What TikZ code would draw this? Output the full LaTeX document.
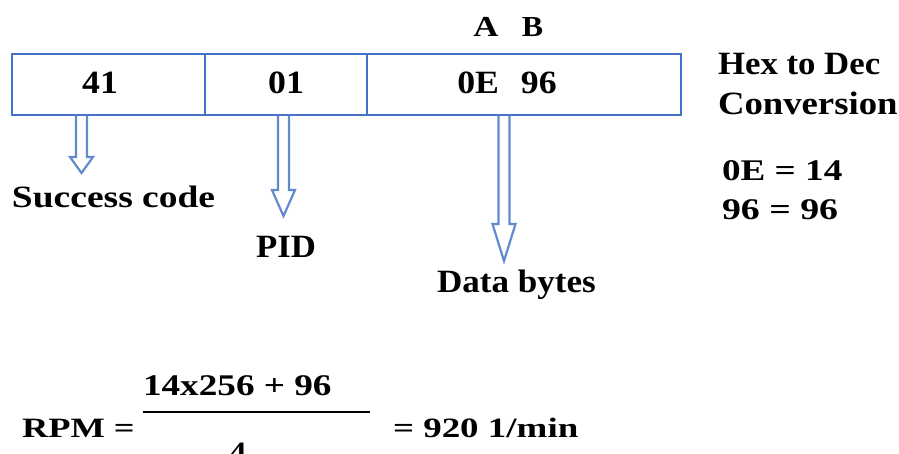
\documentclass[tikz,border=0pt]{standalone}
\usepackage{fontspec}
\setmainfont{Liberation Serif}
\usetikzlibrary{calc}
\definecolor{boxblue}{RGB}{68,114,196}
\definecolor{arrblue}{RGB}{100,138,206}
\tikzset{
  txt/.style n args={2}{font=\fontsize{#1}{#1}\selectfont\bfseries\addfontfeatures{FakeStretch=#2}, inner sep=0pt, outer sep=0pt},
  cell/.style={draw=boxblue, line width=2pt, minimum height=61.5pt, inner sep=0pt, outer sep=0pt, anchor=north west},
  blk/.style={draw=arrblue, line width=2.2pt, line join=miter},
  fracline/.style={draw=black, line width=1.8pt},
}
\newcommand\blkarrow[3]{\draw[blk] let \p1=(#1), \p2=(#2) in
  (\x1-5.5pt,\y1) -- (\x1-5.5pt,\y2+#3) -- (\x1-11.5pt,\y2+#3) -- (\x2,\y2) --
  (\x1+11.5pt,\y2+#3) -- (\x1+5.5pt,\y2+#3) -- (\x1+5.5pt,\y1);}
\begin{document}
\begin{tikzpicture}[x=1pt,y=-1pt]
\fill[white] (0,0) rectangle (899,454);
\useasboundingbox (0,0) rectangle (899,454);
% cells
\node[cell, minimum width=193pt] (c1) at (12,54) {};
\node[cell, minimum width=162pt] (c2) at (c1.north east) {};
\node[cell, minimum width=314pt] (c3) at (c2.north east) {};
% cell texts
\node[txt={32.5}{1.1}, anchor=base] (t41) at (100,94) {41};
\node[txt={32.5}{1.1}, anchor=base] (t01) at (286,94) {01};
\node[txt={32.5}{1.1}, anchor=base] (tdata) at (507,94) {0E\hspace{22pt}96};
\node[txt={29}{1.2}, anchor=base] (tA) at (486,37) {A};
\node[txt={29}{1.1}, anchor=base] (tB) at (532.5,37) {B};
% labels
\node[txt={31}{1.21}, anchor=base west] (lsucc) at (12,208) {Success code};
\node[txt={32.5}{1.07}, anchor=base west] (lpid) at (256,258) {PID};
\node[txt={32.5}{1.08}, anchor=base west] (ldata) at (437,292) {Data bytes};
\node[txt={32.5}{1.07}, anchor=base west] (lhex) at (718,75) {Hex to Dec};
\node[txt={32.5}{1.13}, anchor=base west] (lconv) at (718,115) {Conversion};
\node[txt={30}{1.24}, anchor=base west] (lq1) at (722,181) {0E = 14};
\node[txt={30}{1.26}, anchor=base west] (lq2) at (722,220) {96 = 96};
% arrows
\coordinate (a1s) at ([xshift=69.5pt]c1.south west);
\coordinate (a2s) at ([xshift=78.5pt]c2.south west);
\coordinate (a3s) at ([xshift=137pt]c3.south west);
\coordinate (a1t) at (81.5,173);
\coordinate (a2t) at (283.5,216);
\coordinate (a3t) at (504,261);
\blkarrow{a1s}{a1t}{16pt}
\blkarrow{a2s}{a2t}{26pt}
\blkarrow{a3s}{a3t}{37pt}
% formula
\node[txt={28}{1.3}, anchor=base west] (rpm) at (22,437) {RPM =};
\node[txt={30}{1.24}, anchor=base west] (num) at (143,395) {14x256 + 96};
\node[txt={28}{1.2}, anchor=base] (den) at (238,461) {4};
\node[txt={28}{1.32}, anchor=base west] (res) at (393,437) {= 920 1/min};
\coordinate (f1) at (143,412);
\coordinate (f2) at (370,412);
\draw[fracline] (f1) -- (f2);
\end{tikzpicture}
\end{document}
